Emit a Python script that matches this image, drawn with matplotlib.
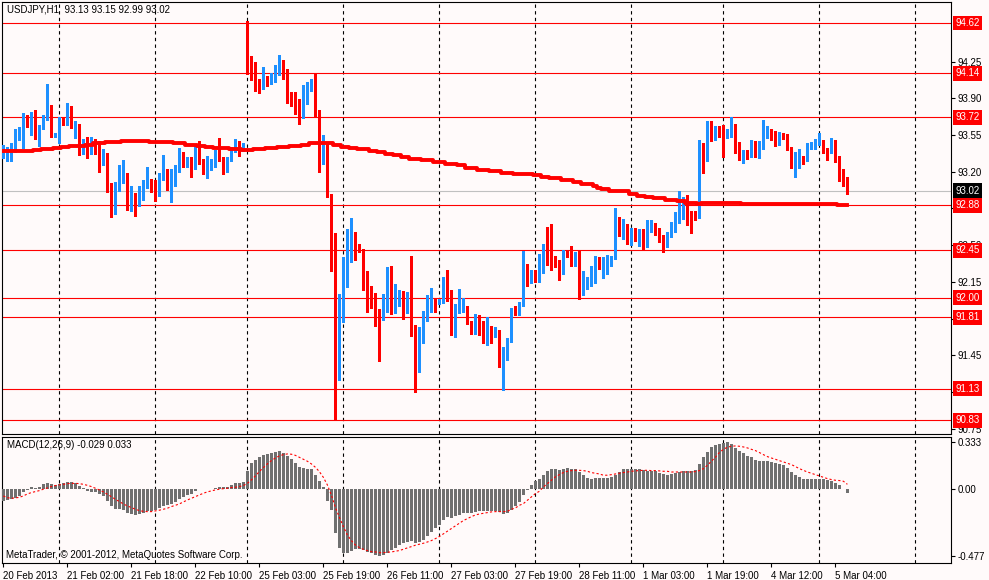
import matplotlib
matplotlib.use("Agg")
import matplotlib.pyplot as plt
import numpy as np

plt.rcParams['font.family'] = ['Liberation Sans', 'DejaVu Sans']

# USDJPY H1 candles, bar 0 = 20 Feb 2013 10:00
opens = [
    93.37, 93.34, 93.38, 93.42, 93.53, 93.58, 93.73, 93.68, 93.70, 93.54, 93.63, 93.70,
    93.83, 93.55, 93.55, 93.70, 93.66, 93.81, 93.66, 93.65, 93.47, 93.49, 93.42, 93.50,
    93.47, 93.34, 93.37, 93.07, 92.85, 93.10, 93.11, 93.18, 92.86, 92.95, 92.92, 93.06,
    93.09, 93.12, 93.12, 92.98, 93.14, 93.22, 93.05, 93.09, 93.22, 93.38, 93.26, 93.32,
    93.25, 93.40, 93.30, 93.23, 93.26, 93.29, 93.33, 93.30, 93.21, 93.34, 93.40, 93.44,
    93.41, 94.63, 94.23, 94.22, 94.08, 94.05, 94.10, 94.07, 94.10, 94.17, 94.23, 94.12,
    93.90, 93.87, 93.85, 93.75, 93.96, 93.97, 94.04, 93.79, 93.33, 93.42, 92.98, 92.62,
    91.30, 91.81, 92.16, 92.35, 92.59, 92.50, 92.45, 92.22, 92.07, 92.04, 91.82, 91.81,
    92.02, 92.25, 91.93, 91.93, 92.04, 92.00, 91.99, 91.69, 91.38, 91.72, 91.84, 91.94,
    91.98, 91.96, 91.97, 92.11, 92.05, 91.68, 91.89, 91.90, 91.91, 91.77, 91.69, 91.82,
    91.77, 91.66, 91.72, 91.66, 91.67, 91.44, 91.47, 91.59, 91.89, 91.86, 91.94, 92.29,
    92.18, 92.23, 92.21, 92.31, 92.49, 92.45, 92.38, 92.35, 92.25, 92.44, 92.42, 92.35,
    92.43, 92.04, 92.16, 92.16, 92.26, 92.36, 92.27, 92.29, 92.38, 92.38, 92.73, 92.68,
    92.69, 92.56, 92.64, 92.58, 92.60, 92.55, 92.64, 92.67, 92.64, 92.57, 92.50, 92.59,
    92.64, 92.72, 92.84, 92.97, 92.82, 92.79, 92.77, 93.46, 93.38, 93.67, 93.55, 93.62,
    93.64, 93.54, 93.54, 93.65, 93.41, 93.32, 93.38, 93.35, 93.47, 93.36, 93.43, 93.57,
    93.59, 93.54, 93.50, 93.55, 93.54, 93.42, 93.25, 93.34, 93.35, 93.33, 93.44, 93.46,
    93.48, 93.49, 93.42, 93.38, 93.50, 93.34, 93.22, 93.13,
]
highs = [
    93.46, 93.44, 93.47, 93.61, 93.63, 93.76, 93.74, 93.77, 93.79, 93.65, 93.74, 94.04,
    93.84, 93.57, 93.72, 93.72, 93.86, 93.83, 93.68, 93.66, 93.51, 93.53, 93.53, 93.51,
    93.49, 93.42, 93.38, 93.09, 93.10, 93.26, 93.31, 93.19, 93.06, 93.00, 93.06, 93.12,
    93.25, 93.13, 93.12, 93.19, 93.36, 93.23, 93.23, 93.26, 93.43, 93.39, 93.34, 93.34,
    93.46, 93.49, 93.32, 93.35, 93.32, 93.41, 93.52, 93.34, 93.34, 93.44, 93.51, 93.49,
    93.47, 94.64, 94.30, 94.25, 94.09, 94.20, 94.11, 94.14, 94.22, 94.31, 94.27, 94.18,
    93.96, 93.96, 93.89, 94.03, 94.06, 94.09, 94.14, 93.79, 93.55, 93.47, 92.99, 92.62,
    92.03, 92.39, 92.65, 92.76, 92.63, 92.51, 92.46, 92.25, 92.11, 92.04, 91.89, 92.03,
    92.29, 92.30, 92.13, 92.07, 92.06, 92.05, 92.40, 91.74, 91.72, 91.87, 92.02, 92.09,
    91.99, 91.99, 92.20, 92.26, 92.07, 91.94, 92.08, 92.00, 91.92, 91.78, 91.84, 91.83,
    91.78, 91.81, 91.73, 91.72, 91.69, 91.53, 91.61, 91.90, 91.92, 91.96, 92.44, 92.32,
    92.26, 92.26, 92.42, 92.51, 92.67, 92.70, 92.40, 92.36, 92.45, 92.45, 92.49, 92.43,
    92.44, 92.25, 92.20, 92.30, 92.40, 92.39, 92.39, 92.41, 92.40, 92.85, 92.77, 92.75,
    92.70, 92.66, 92.66, 92.65, 92.65, 92.74, 92.74, 92.71, 92.66, 92.60, 92.63, 92.72,
    92.82, 93.02, 92.96, 92.98, 92.83, 92.83, 93.50, 93.47, 93.68, 93.68, 93.64, 93.64,
    93.65, 93.61, 93.72, 93.66, 93.48, 93.41, 93.41, 93.50, 93.49, 93.49, 93.69, 93.64,
    93.61, 93.59, 93.58, 93.57, 93.56, 93.44, 93.39, 93.42, 93.35, 93.47, 93.48, 93.51,
    93.57, 93.50, 93.43, 93.52, 93.50, 93.35, 93.23, 93.15,
]
lows = [
    93.33, 93.30, 93.30, 93.39, 93.50, 93.43, 93.63, 93.55, 93.51, 93.45, 93.61, 93.69,
    93.53, 93.53, 93.47, 93.65, 93.65, 93.62, 93.52, 93.36, 93.37, 93.33, 93.37, 93.37,
    93.20, 93.26, 93.01, 92.77, 92.80, 93.02, 93.09, 92.84, 92.83, 92.78, 92.87, 92.93,
    93.05, 93.01, 92.92, 92.97, 93.12, 93.03, 92.91, 93.06, 93.20, 93.25, 93.25, 93.15,
    93.23, 93.27, 93.18, 93.14, 93.22, 93.25, 93.30, 93.18, 93.20, 93.30, 93.39, 93.35,
    93.40, 94.13, 94.08, 93.97, 93.95, 93.99, 94.02, 94.04, 94.06, 94.12, 94.09, 93.86,
    93.83, 93.75, 93.66, 93.71, 93.85, 93.97, 93.73, 93.20, 93.27, 92.96, 92.25, 90.83,
    91.21, 91.77, 92.10, 92.34, 92.36, 92.43, 92.07, 91.86, 91.90, 91.73, 91.39, 91.79,
    91.86, 91.84, 91.85, 91.92, 91.80, 91.85, 91.63, 91.10, 91.29, 91.57, 91.78, 91.86,
    91.86, 91.94, 91.95, 91.97, 91.64, 91.62, 91.85, 91.86, 91.75, 91.65, 91.65, 91.64,
    91.57, 91.55, 91.57, 91.62, 91.34, 91.12, 91.40, 91.58, 91.83, 91.83, 91.92, 92.11,
    92.14, 92.15, 92.15, 92.23, 92.31, 92.26, 92.29, 92.17, 92.22, 92.39, 92.30, 92.30,
    91.99, 92.02, 92.08, 92.11, 92.14, 92.27, 92.19, 92.22, 92.30, 92.37, 92.59, 92.56,
    92.51, 92.50, 92.54, 92.49, 92.45, 92.48, 92.63, 92.60, 92.53, 92.43, 92.48, 92.58,
    92.63, 92.71, 92.75, 92.69, 92.62, 92.74, 92.76, 93.19, 93.30, 93.49, 93.50, 93.53,
    93.34, 93.52, 93.53, 93.38, 93.31, 93.28, 93.32, 93.34, 93.34, 93.33, 93.42, 93.52,
    93.50, 93.45, 93.46, 93.51, 93.41, 93.24, 93.15, 93.24, 93.27, 93.30, 93.42, 93.42,
    93.46, 93.38, 93.31, 93.38, 93.29, 93.11, 93.06, 92.99,
]
closes = [
    93.42, 93.41, 93.44, 93.55, 93.60, 93.70, 93.68, 93.70, 93.53, 93.63, 93.72, 93.82,
    93.54, 93.56, 93.69, 93.68, 93.83, 93.66, 93.67, 93.47, 93.48, 93.42, 93.50, 93.46,
    93.32, 93.36, 93.07, 92.87, 93.09, 93.12, 93.19, 92.86, 92.97, 92.87, 93.06, 93.10,
    93.13, 93.11, 92.98, 93.14, 93.22, 93.04, 93.10, 93.24, 93.36, 93.26, 93.30, 93.26,
    93.41, 93.29, 93.23, 93.26, 93.29, 93.32, 93.30, 93.22, 93.34, 93.42, 93.44, 93.42,
    93.45, 94.25, 94.21, 94.08, 94.04, 94.11, 94.08, 94.10, 94.18, 94.23, 94.12, 93.87,
    93.86, 93.84, 93.74, 93.97, 93.97, 94.05, 93.79, 93.33, 93.42, 92.98, 92.62, 91.33,
    91.81, 92.18, 92.36, 92.58, 92.48, 92.46, 92.21, 92.06, 92.02, 91.81, 91.80, 92.00,
    92.24, 91.93, 91.94, 92.04, 92.00, 92.02, 91.68, 91.38, 91.72, 91.84, 91.94, 91.98,
    91.96, 91.97, 92.11, 92.04, 91.68, 91.89, 91.91, 91.92, 91.76, 91.69, 91.83, 91.77,
    91.66, 91.72, 91.66, 91.68, 91.44, 91.47, 91.59, 91.89, 91.86, 91.94, 92.29, 92.18,
    92.24, 92.20, 92.31, 92.50, 92.44, 92.37, 92.35, 92.25, 92.44, 92.42, 92.35, 92.42,
    92.01, 92.16, 92.17, 92.26, 92.36, 92.35, 92.35, 92.40, 92.39, 92.72, 92.67, 92.70,
    92.55, 92.64, 92.57, 92.60, 92.55, 92.65, 92.67, 92.64, 92.56, 92.55, 92.59, 92.64,
    92.73, 92.84, 92.95, 92.78, 92.78, 92.78, 93.45, 93.38, 93.67, 93.55, 93.60, 93.56,
    93.54, 93.56, 93.65, 93.40, 93.34, 93.38, 93.36, 93.47, 93.43, 93.43, 93.57, 93.59,
    93.54, 93.51, 93.53, 93.53, 93.42, 93.26, 93.34, 93.35, 93.33, 93.45, 93.46, 93.49,
    93.49, 93.40, 93.40, 93.49, 93.33, 93.20, 93.12, 93.02,
]
moving_avg = [
    93.40, 93.40, 93.40, 93.40, 93.40, 93.40, 93.40, 93.40, 93.41, 93.41, 93.42, 93.42,
    93.42, 93.43, 93.43, 93.44, 93.44, 93.45, 93.45, 93.45, 93.45, 93.46, 93.46, 93.47,
    93.47, 93.47, 93.48, 93.48, 93.48, 93.48, 93.49, 93.49, 93.49, 93.49, 93.49, 93.49,
    93.49, 93.48, 93.48, 93.48, 93.48, 93.48, 93.48, 93.47, 93.47, 93.47, 93.46, 93.46,
    93.46, 93.45, 93.45, 93.44, 93.44, 93.43, 93.43, 93.43, 93.43, 93.42, 93.42, 93.42,
    93.41, 93.41, 93.41, 93.42, 93.42, 93.42, 93.43, 93.43, 93.43, 93.44, 93.44, 93.44,
    93.45, 93.45, 93.45, 93.46, 93.46, 93.47, 93.47, 93.47, 93.47, 93.47, 93.47, 93.46,
    93.46, 93.44, 93.44, 93.43, 93.43, 93.42, 93.42, 93.42, 93.40, 93.40, 93.39, 93.39,
    93.37, 93.37, 93.36, 93.36, 93.34, 93.34, 93.32, 93.32, 93.32, 93.31, 93.31, 93.31,
    93.29, 93.29, 93.29, 93.27, 93.27, 93.27, 93.26, 93.26, 93.24, 93.24, 93.24, 93.22,
    93.22, 93.22, 93.21, 93.21, 93.21, 93.19, 93.19, 93.19, 93.18, 93.18, 93.18, 93.18,
    93.18, 93.17, 93.17, 93.15, 93.15, 93.14, 93.14, 93.14, 93.12, 93.12, 93.12, 93.10,
    93.10, 93.08, 93.08, 93.08, 93.06, 93.05, 93.04, 93.04, 93.02, 93.02, 93.02, 93.02,
    93.02, 92.99, 92.99, 92.97, 92.97, 92.96, 92.96, 92.95, 92.95, 92.95, 92.93, 92.93,
    92.93, 92.92, 92.92, 92.90, 92.90, 92.90, 92.89, 92.90, 92.90, 92.90, 92.90, 92.90,
    92.90, 92.90, 92.90, 92.90, 92.90, 92.89, 92.89, 92.89, 92.89, 92.89, 92.89, 92.89,
    92.89, 92.89, 92.89, 92.89, 92.89, 92.89, 92.89, 92.89, 92.89, 92.89, 92.89, 92.89,
    92.89, 92.89, 92.89, 92.89, 92.89, 92.88, 92.88, 92.88,
]
macd_main = [
    -0.083, -0.079, -0.074, -0.062, -0.048, -0.019, -0.007, 0.012, 0.005, 0.012, 0.033, 0.045,
    0.038, 0.031, 0.038, 0.040, 0.050, 0.048, 0.040, 0.024, 0.005, -0.014, -0.021, -0.024,
    -0.036, -0.048, -0.088, -0.121, -0.140, -0.145, -0.150, -0.169, -0.179, -0.188, -0.179, -0.169,
    -0.160, -0.155, -0.150, -0.138, -0.121, -0.114, -0.107, -0.090, -0.069, -0.055, -0.045, -0.036,
    -0.017, 0.001, 0.002, -0.002, 0.002, 0.010, 0.012, 0.012, 0.017, 0.026, 0.040, 0.045,
    0.048, 0.131, 0.188, 0.207, 0.231, 0.243, 0.250, 0.257, 0.264, 0.269, 0.260, 0.236,
    0.212, 0.188, 0.155, 0.148, 0.140, 0.140, 0.100, 0.057, 0.017, -0.083, -0.150, -0.317,
    -0.424, -0.460, -0.455, -0.440, -0.431, -0.431, -0.436, -0.448, -0.460, -0.470, -0.477, -0.471,
    -0.455, -0.436, -0.424, -0.400, -0.383, -0.376, -0.371, -0.383, -0.376, -0.364, -0.336, -0.305,
    -0.281, -0.257, -0.221, -0.202, -0.210, -0.193, -0.186, -0.174, -0.169, -0.169, -0.164, -0.160,
    -0.160, -0.160, -0.160, -0.160, -0.164, -0.179, -0.174, -0.152, -0.121, -0.093, -0.040, -0.010,
    0.031, 0.055, 0.074, 0.102, 0.126, 0.140, 0.140, 0.136, 0.140, 0.150, 0.145, 0.140,
    0.121, 0.098, 0.079, 0.074, 0.079, 0.079, 0.079, 0.079, 0.086, 0.102, 0.121, 0.140,
    0.145, 0.145, 0.140, 0.140, 0.136, 0.131, 0.131, 0.126, 0.117, 0.107, 0.102, 0.107,
    0.117, 0.121, 0.131, 0.131, 0.126, 0.133, 0.181, 0.226, 0.264, 0.298, 0.312, 0.321,
    0.329, 0.333, 0.324, 0.293, 0.274, 0.255, 0.236, 0.226, 0.207, 0.198, 0.198, 0.198,
    0.193, 0.188, 0.179, 0.169, 0.150, 0.121, 0.102, 0.083, 0.074, 0.074, 0.074, 0.074,
    0.069, 0.069, 0.062, 0.055, 0.045, 0.026, 0.002, -0.029,
]
macd_signal = [
    -0.050, -0.062, -0.067, -0.064, -0.060, -0.050, -0.036, -0.026, -0.019, -0.012, -0.002, 0.007,
    0.017, 0.024, 0.029, 0.033, 0.038, 0.040, 0.040, 0.038, 0.033, 0.026, 0.017, 0.005,
    -0.007, -0.021, -0.038, -0.055, -0.074, -0.090, -0.107, -0.121, -0.133, -0.145, -0.155, -0.160,
    -0.162, -0.162, -0.157, -0.152, -0.145, -0.138, -0.126, -0.117, -0.107, -0.093, -0.079, -0.067,
    -0.055, -0.043, -0.031, -0.021, -0.014, -0.007, -0.002, 0.002, 0.005, 0.010, 0.012, 0.017,
    0.024, 0.040, 0.064, 0.093, 0.124, 0.152, 0.179, 0.202, 0.221, 0.236, 0.245, 0.250,
    0.248, 0.240, 0.226, 0.212, 0.198, 0.179, 0.155, 0.124, 0.083, 0.029, -0.043, -0.131,
    -0.202, -0.269, -0.329, -0.369, -0.400, -0.419, -0.431, -0.440, -0.448, -0.450, -0.455, -0.455,
    -0.452, -0.450, -0.445, -0.440, -0.431, -0.421, -0.412, -0.402, -0.395, -0.388, -0.379, -0.369,
    -0.355, -0.340, -0.321, -0.302, -0.283, -0.264, -0.245, -0.226, -0.212, -0.198, -0.186, -0.179,
    -0.174, -0.169, -0.164, -0.162, -0.162, -0.162, -0.160, -0.145, -0.136, -0.117, -0.105, -0.081,
    -0.057, -0.033, -0.017, 0.014, 0.038, 0.062, 0.086, 0.102, 0.117, 0.126, 0.131, 0.133,
    0.133, 0.131, 0.126, 0.117, 0.112, 0.107, 0.098, 0.098, 0.102, 0.107, 0.112, 0.117,
    0.121, 0.126, 0.129, 0.131, 0.133, 0.133, 0.131, 0.131, 0.129, 0.126, 0.126, 0.121,
    0.121, 0.121, 0.121, 0.121, 0.121, 0.124, 0.131, 0.145, 0.169, 0.198, 0.226, 0.260,
    0.283, 0.298, 0.305, 0.307, 0.305, 0.300, 0.293, 0.283, 0.274, 0.260, 0.245, 0.231,
    0.221, 0.212, 0.202, 0.193, 0.183, 0.174, 0.160, 0.145, 0.133, 0.121, 0.112, 0.102,
    0.093, 0.083, 0.074, 0.067, 0.062, 0.060, 0.055, 0.033,
]

levels = [94.62, 94.14, 93.72, 92.88, 92.45, 92.00, 91.81, 91.13, 90.83]
bid = 93.02
price_ticks = [94.25, 93.90, 93.55, 93.20, 92.85, 92.50, 92.15, 91.80, 91.45, 91.10, 90.75]
day_starts = [14, 38, 61, 85, 109, 133, 157, 180, 204, 228]
time_tick_bars = [0, 16, 32, 48, 64, 80, 96, 112, 128, 144, 160, 176, 192, 208]
time_tick_labels = ["20 Feb 2013", "21 Feb 02:00", "21 Feb 18:00", "22 Feb 10:00",
                    "25 Feb 03:00", "25 Feb 19:00", "26 Feb 11:00", "27 Feb 03:00",
                    "27 Feb 19:00", "28 Feb 11:00", "1 Mar 03:00", "1 Mar 19:00",
                    "4 Mar 12:00", "5 Mar 04:00"]

BG = '#fffafa'
BLUE = '#1e90ff'
RED = '#ff0000'
FS = 7

o = np.array(opens); h = np.array(highs); l = np.array(lows); c = np.array(closes)
x = np.arange(len(c))

fig = plt.figure(figsize=(9.89, 5.80), dpi=100, facecolor=BG)
W, H = 989.0, 580.0
ax = fig.add_axes([2 / W, 1 - 434 / H, 949 / W, 432 / H], facecolor=BG)
ax2 = fig.add_axes([2 / W, 1 - 563 / H, 949 / W, 126 / H], facecolor=BG)

xlim = (-0.33, 236.9)

# ---- price panel ----
for b in day_starts:
    ax.axvline(b, color='black', lw=0.8, ls=(0, (3, 3)), zorder=1)
for lv in levels:
    ax.axhline(lv, color=RED, lw=0.8, zorder=2)
ax.axhline(bid, color='#c0c0c0', lw=0.8, zorder=2)

col = np.where(c >= o, BLUE, RED)
ax.vlines(x, l, h, colors=col, lw=0.8, zorder=3, antialiased=False)
body = np.maximum(np.abs(c - o), 0.009)
ax.bar(x, body, bottom=np.minimum(o, c), width=0.74, color=col, lw=0, zorder=4, antialiased=False)
ax.step(x, moving_avg, where='mid', color=RED, lw=2.8, zorder=5)

ax.set_xlim(*xlim)
ax.set_ylim(90.698, 94.820)
ax.set_xticks([])
ax.yaxis.tick_right()
ax.set_yticks(price_ticks)
ax.set_yticklabels([f'{v:.2f}' for v in price_ticks])
ax.tick_params(axis='y', direction='out', length=3, width=0.8, pad=2, labelsize=FS)

for lv in levels:
    ax.annotate(f'{lv:.2f}', xy=(1, lv), xycoords=('axes fraction', 'data'),
                xytext=(4, 0), textcoords='offset pixels', ha='left', va='center',
                color='white', fontsize=FS, annotation_clip=False, zorder=10,
                bbox=dict(boxstyle='square,pad=0.25', fc=RED, ec='none'))
ax.annotate(f'{bid:.2f}', xy=(1, bid), xycoords=('axes fraction', 'data'),
            xytext=(4, 0), textcoords='offset pixels', ha='left', va='center',
            color='white', fontsize=FS, annotation_clip=False, zorder=10,
            bbox=dict(boxstyle='square,pad=0.25', fc='black', ec='none'))

ax.annotate('USDJPY,H1  93.13 93.15 92.99 93.02', xy=(0, 1), xycoords='axes fraction',
            xytext=(5, -3), textcoords='offset pixels', ha='left', va='top', fontsize=FS)

# ---- MACD panel ----
for b in day_starts:
    ax2.axvline(b, color='black', lw=0.8, ls=(0, (3, 3)), zorder=1)
ax2.bar(x, macd_main, width=0.62, color='#707070', lw=0, zorder=3, antialiased=False)
ax2.plot(x, macd_signal, color=RED, lw=0.8, ls=(0, (2, 2)), zorder=4)
ax2.set_xlim(*xlim)
ax2.set_ylim(-0.529, 0.371)
ax2.yaxis.tick_right()
ax2.set_yticks([0.333, 0.0, -0.477])
ax2.set_yticklabels(['0.333', '0.00', '-0.477'])
ax2.tick_params(axis='y', direction='out', length=3, width=0.8, pad=2, labelsize=FS)
ax2.set_xticks(time_tick_bars)
ax2.set_xticklabels(time_tick_labels)
ax2.tick_params(axis='x', direction='out', length=3, width=0.8, pad=3, labelsize=FS)
for t in ax2.get_xticklabels():
    t.set_horizontalalignment('left')

ax2.annotate('MACD(12,26,9) -0.029 0.033', xy=(0, 1), xycoords='axes fraction',
             xytext=(5, -3), textcoords='offset pixels', ha='left', va='top', fontsize=FS)
ax2.annotate('MetaTrader, © 2001-2012, MetaQuotes Software Corp.', xy=(0, 0),
             xycoords='axes fraction', xytext=(4, 3), textcoords='offset pixels',
             ha='left', va='bottom', fontsize=FS, zorder=10)

for a in (ax, ax2):
    for s in a.spines.values():
        s.set_color('black')
        s.set_linewidth(0.8)

fig.savefig('out.png', dpi=100, facecolor=BG)
